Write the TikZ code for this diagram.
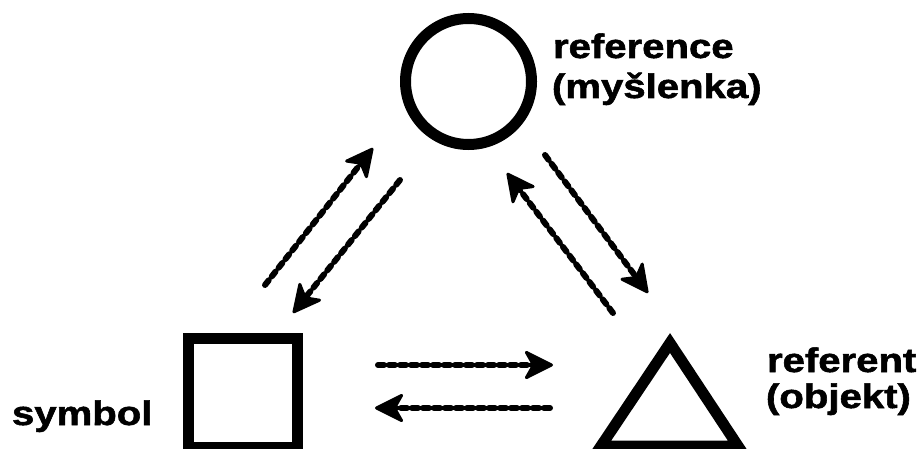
\documentclass[tikz,border=0pt]{standalone}
\usepackage{fontspec}
\setmainfont{Liberation Sans}
\newfontfamily\labelfont[FakeBold=1.5]{Liberation Sans Bold}
\usetikzlibrary{arrows.meta}

\tikzset{
  outline/.style={draw=black, line width=11pt, line join=miter},
  label text/.style={anchor=base west, inner sep=0pt, outer sep=0pt,
    font=\fontsize{34}{40}\selectfont\labelfont},
  relation/.style={draw=black, line width=6pt, line cap=round,
    dash pattern=on 6pt off 5pt,
    -{Stealth[length=32pt, width=32pt, inset=9pt, round, line width=3pt]}},
}
\newcommand{\wide}[1]{\scalebox{1.18}[1]{#1}}

\begin{document}
\begin{tikzpicture}[x=1pt, y=-1pt]
  \useasboundingbox (0,0) rectangle (923,449);

  % the three corners of the semiotic triangle
  \node[outline, circle, minimum size=126pt, inner sep=0pt] (thought) at (468.5,81.5) {};
  \node[outline, rectangle, minimum width=109pt, minimum height=109pt, inner sep=0pt] (sym) at (243,393) {};
  \coordinate (apex) at (670,343);
  \coordinate (baseL) at (601,446);
  \coordinate (baseR) at (738,446);
  \draw[outline] (apex) -- (baseL) -- (baseR) -- cycle;

  % labels
  \node[label text] (lref1) at (553,58) {\wide{reference}};
  \node[label text] (lref2) at (552,98) {\wide{(myšlenka)}};
  \node[label text] (lsym) at (12,425) {\wide{symbol}};
  \node[label text] (lobj1) at (767,372) {\wide{referent}};
  \node[label text] (lobj2) at (766,408) {\wide{(objekt)}};

  % arrow end points
  \coordinate (s1) at (265,285);  \coordinate (t1) at (373,148);
  \coordinate (s2) at (400,180);  \coordinate (t2) at (293,313);
  \coordinate (s3) at (613,313);  \coordinate (t3) at (507,173);
  \coordinate (s4) at (545,155);  \coordinate (t4) at (648,293);
  \coordinate (s5) at (378,365);  \coordinate (t5) at (553,365);
  \coordinate (s6) at (550,408);  \coordinate (t6) at (375,408);

  % dashed relations between the corners
  \draw[relation] (s1) -- (t1);
  \draw[relation] (s2) -- (t2);
  \draw[relation] (s3) -- (t3);
  \draw[relation] (s4) -- (t4);
  \draw[relation] (s5) -- (t5);
  \draw[relation] (s6) -- (t6);
\end{tikzpicture}
\end{document}
